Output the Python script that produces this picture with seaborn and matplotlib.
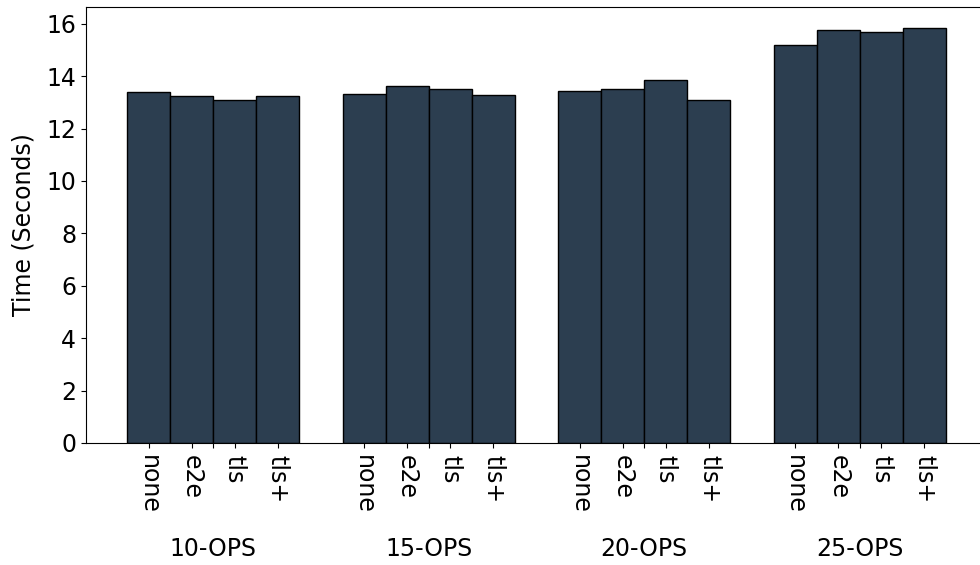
import matplotlib
matplotlib.use("Agg")
import matplotlib.pyplot as plt
import seaborn as sns
import pandas as pd

# Run-time per workload size and transport-security mode
groups = ["10-OPS", "15-OPS", "20-OPS", "25-OPS"]
methods = ["none", "e2e", "tls", "tls+"]
t_none = [13.38, 13.33, 13.43, 15.19]
t_e2e = [13.25, 13.62, 13.52, 15.78]
t_tls = [13.10, 13.52, 13.85, 15.68]
t_tls_plus = [13.26, 13.28, 13.09, 15.85]

series = [t_none, t_e2e, t_tls, t_tls_plus]
df = pd.DataFrame(
    [(g, m, vals[i]) for m, vals in zip(methods, series) for i, g in enumerate(groups)],
    columns=["group", "method", "time"],
)

FS = 17
plt.rcParams["font.family"] = ["DejaVu Sans"]
plt.rcParams["font.size"] = FS

W, H = 980, 565
fig = plt.figure(figsize=(W / 100, H / 100), dpi=100)
left, right, top, bottom = 86, 987, 7, 443
ax = fig.add_axes([left / W, 1 - bottom / H, (right - left) / W, (bottom - top) / H])

bar_color = "#2c3e50"
sns.barplot(
    data=df, x="group", y="time", hue="method",
    order=groups, hue_order=methods,
    palette=[bar_color] * len(methods), saturation=1,
    edgecolor="black", linewidth=1, legend=False, ax=ax,
)

# Method labels under each bar, group names under each cluster
bar_pos, bar_lab = [], []
for m, cont in zip(methods, ax.containers):
    for p in cont.patches:
        bar_pos.append(p.get_x() + p.get_width() / 2)
        bar_lab.append(m)
order = sorted(range(len(bar_pos)), key=lambda i: bar_pos[i])
ax.set_xticks([bar_pos[i] for i in order])
ax.set_xticklabels([bar_lab[i] for i in order], rotation=270, fontsize=FS)

ax.set_xticks(range(len(groups)), minor=True)
ax.set_xticklabels(groups, minor=True, fontsize=FS)
ax.tick_params(axis="x", which="minor", length=3.5, width=0.8, pad=64)
ax.tick_params(axis="x", which="major", length=3.5, width=0.8, pad=5)

ax.set_xlim(-0.59, 3.59)
ax.set_ylim(0, 16.64)
ax.set_yticks(range(0, 17, 2))
ax.tick_params(axis="y", labelsize=FS)
ax.set_xlabel("")
ax.set_ylabel("Time (Seconds)", fontsize=FS, labelpad=8)

fig.savefig("out.png", dpi=100)
